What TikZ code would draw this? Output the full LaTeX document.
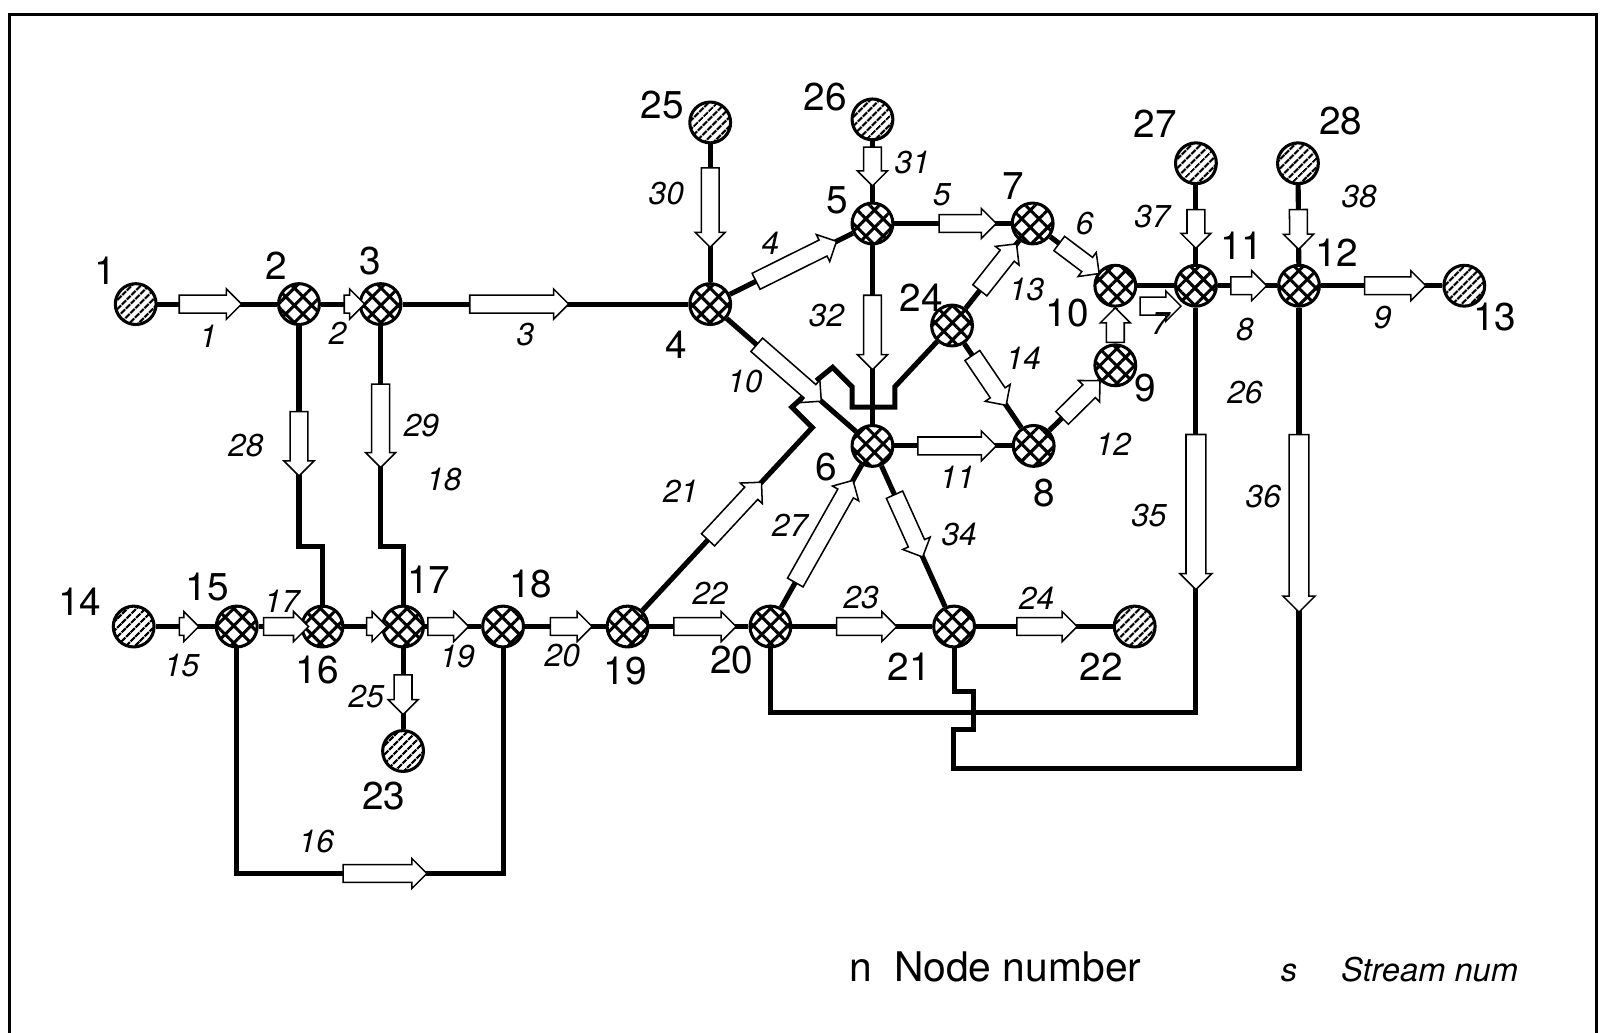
\documentclass[tikz,border=0pt]{standalone}
\usepackage{fontspec}
\setmainfont{TeX Gyre Heros}
\usepackage{tikz}
\usetikzlibrary{shapes.arrows, patterns.meta}

\begin{document}
\begin{tikzpicture}[x=1pt, y=-1pt,
  conn/.style={line width=5},
  junc/.style={circle, draw, line width=3, minimum size=40, inner sep=0pt,
    preaction={fill=white}, pattern={Hatch[angle=45, distance=12pt, line width=3pt]}},
  term/.style={circle, draw, line width=3, minimum size=40, inner sep=0pt,
    preaction={fill=white}, pattern={Lines[angle=45, distance=6.5pt, line width=2.4pt]}},
  strm/.style={single arrow, draw, fill=white, line width=1.5, inner xsep=0pt, inner ysep=8pt,
    single arrow head extend=6, sloped, allow upside down},
  nlab/.style={inner sep=0pt, font=\fontsize{38}{42}\selectfont},
  snum/.style={inner sep=0pt, font=\fontsize{31}{35}\selectfont\itshape}]
  \useasboundingbox (0,0) rectangle (1568,1012);
  \draw[line width=3] (9,1012) -- (9,14) -- (1565,14) -- (1565,1012);

  % Nodes
  \node[term] (n1)  at (133,298)  {};
  \node[junc] (n2)  at (293,298)  {};
  \node[junc] (n3)  at (373,298)  {};
  \node[junc] (n4)  at (696,298)  {};
  \node[junc] (n5)  at (855,219)  {};
  \node[junc] (n6)  at (855,437)  {};
  \node[junc] (n7)  at (1012,219) {};
  \node[junc] (n8)  at (1013,437) {};
  \node[junc] (n9)  at (1093,358) {};
  \node[junc] (n10) at (1093,280) {};
  \node[junc] (n11) at (1172,280) {};
  \node[junc] (n12) at (1273,280) {};
  \node[term] (n13) at (1435,280) {};
  \node[term] (n14) at (131,614)  {};
  \node[junc] (n15) at (232,614)  {};
  \node[junc] (n16) at (316,614)  {};
  \node[junc] (n17) at (395,614)  {};
  \node[junc] (n18) at (493,614)  {};
  \node[junc] (n19) at (615,614)  {};
  \node[junc] (n20) at (755,614)  {};
  \node[junc] (n21) at (935,614)  {};
  \node[term] (n22) at (1112,614) {};
  \node[term] (n23) at (395,736)  {};
  \node[junc] (n24) at (933,319)  {};
  \node[term] (n25) at (696,120)  {};
  \node[term] (n26) at (855,117)  {};
  \node[term] (n27) at (1172,160) {};
  \node[term] (n28) at (1272,160) {};

  % Bends
  \coordinate (k28a) at (293,536);
  \coordinate (k28b) at (316,536);
  \coordinate (k29a) at (373,536);
  \coordinate (k29b) at (395,536);
  \coordinate (k16a) at (232,856);
  \coordinate (k16b) at (493,856);
  \coordinate (k35a) at (1172,698);
  \coordinate (k35b) at (755,698);
  \coordinate (k36a) at (1273,753);
  \coordinate (k36b) at (934,753);
  \coordinate (k36c) at (934,715);
  \coordinate (k36d) at (954,715);
  \coordinate (k36e) at (954,678);
  \coordinate (k36f) at (935,678);
  \coordinate (k21a) at (796,419);
  \coordinate (k21b) at (776,399);
  \coordinate (k21c) at (787,389);
  \coordinate (k24a) at (877,379);
  \coordinate (k24b) at (877,399);
  \coordinate (k24c) at (835,399);
  \coordinate (k24d) at (835,379);
  \coordinate (k24e) at (816,360);
  \coordinate (k24f) at (800,373);
  \coordinate (k7a)  at (1113,300);
  \coordinate (k7b)  at (1153,300);

  % Lines
  \draw[conn] (n1) -- (n2);
  \draw[conn] (n2) -- (n3);
  \draw[conn] (n3) -- (n4);
  \draw[conn] (n25) -- (n4);
  \draw[conn] (n4) -- (n5);
  \draw[conn] (n4) -- (n6);
  \draw[conn] (n26) -- (n5);
  \draw[conn] (n5) -- (n7);
  \draw[conn] (n5) -- (n6);
  \draw[conn] (n24) -- (n7);
  \draw[conn] (n24) -- (n8);
  \draw[conn] (n7) -- (n10);
  \draw[conn] (n6) -- (n8);
  \draw[conn] (n8) -- (n9);
  \draw[conn] (n9) -- (n10);
  \draw[conn] (n10) -- (n11);
  \draw[conn] (n11) -- (n12);
  \draw[conn] (n12) -- (n13);
  \draw[conn] (n27) -- (n11);
  \draw[conn] (n28) -- (n12);
  \draw[conn] (n14) -- (n15);
  \draw[conn] (n15) -- (n16);
  \draw[conn] (n16) -- (n17);
  \draw[conn] (n17) -- (n18);
  \draw[conn] (n18) -- (n19);
  \draw[conn] (n19) -- (n20);
  \draw[conn] (n20) -- (n21);
  \draw[conn] (n21) -- (n22);
  \draw[conn] (n17) -- (n23);
  \draw[conn] (n20) -- (n6);
  \draw[conn] (n6) -- (n21);
  \draw[conn] (n2) -- (k28a) -- (k28b) -- (n16);
  \draw[conn] (n3) -- (k29a) -- (k29b) -- (n17);
  \draw[conn] (n15) -- (k16a) -- (k16b) -- (n18);
  \draw[conn] (n11) -- (k35a) -- (k35b) -- (n20);
  \draw[conn] (n12) -- (k36a) -- (k36b) -- (k36c) -- (k36d) -- (k36e) -- (k36f) -- (n21);
  \draw[conn] (n19) -- (k21a) -- (k21b) -- (k21c);
  \draw[conn] (n24) -- (k24a) -- (k24b) -- (k24c) -- (k24d) -- (k24e) -- (k24f);

  % Stream arrows
  \path (n1.center) -- node[strm, pos=.43, minimum height=61] (a1) {} (n2.center);
  \path (n2.center) -- node[strm, pos=.625, minimum height=20] (a2) {} (n3.center);
  \path (n3.center) -- node[strm, pos=.407, minimum height=97] (a3) {} (n4.center);
  \path (n4.center) -- node[strm, pos=.506, minimum height=88] (a4) {} (n5.center);
  \path (n5.center) -- node[strm, pos=.567, minimum height=56] (a5) {} (n7.center);
  \path (n7.center) -- node[strm, pos=.52, minimum height=49] (a6) {} (n10.center);
  \path (k7a) -- node[strm, pos=.5, minimum height=40] (a7) {} (k7b);
  \path (n11.center) -- node[strm, pos=.47, minimum height=35] (a8) {} (n12.center);
  \path (n12.center) -- node[strm, pos=.555, minimum height=60] (a9) {} (n13.center);
  \path (n4.center) -- node[strm, pos=.465, minimum height=84] (a10) {} (n6.center);
  \path (n6.center) -- node[strm, pos=.497, minimum height=77] (a11) {} (n8.center);
  \path (n8.center) -- node[strm, pos=.54, minimum height=52] (a12) {} (n9.center);
  \path (n24.center) -- node[strm, pos=.538, minimum height=58] (a13) {} (n7.center);
  \path (n24.center) -- node[strm, pos=.425, minimum height=59] (a14) {} (n8.center);
  \path (n9.center) -- node[strm, pos=.449, minimum height=34] (a9b) {} (n10.center);
  \path (n14.center) -- node[strm, pos=.495, minimum height=19] (a15) {} (n15.center);
  \path (k16a) -- node[strm, pos=.54, minimum height=82] (a16) {} (k16b);
  \path (n15.center) -- node[strm, pos=.524, minimum height=44] (a17) {} (n16.center);
  \path (n16.center) -- node[strm, pos=.62, minimum height=20] (a16b) {} (n17.center);
  \path (n17.center) -- node[strm, pos=.408, minimum height=40] (a19) {} (n18.center);
  \path (n18.center) -- node[strm, pos=.512, minimum height=41] (a20) {} (n19.center);
  \path (n19.center) -- node[strm, pos=.564, minimum height=77] (a21) {} (k21a);
  \path (n19.center) -- node[strm, pos=.511, minimum height=61] (a22) {} (n20.center);
  \path (n20.center) -- node[strm, pos=.5, minimum height=59] (a23) {} (n21.center);
  \path (n21.center) -- node[strm, pos=.49, minimum height=59] (a24) {} (n22.center);
  \path (n17.center) -- node[strm, pos=.512, minimum height=39] (a25) {} (n23.center);
  \path (n20.center) -- node[strm, pos=.505, minimum height=115] (a27) {} (n6.center);
  \path (n2.center) -- node[strm, pos=.557, minimum height=63] (a28) {} (k28a);
  \path (n3.center) -- node[strm, pos=.483, minimum height=82] (a29) {} (k29a);
  \path (n25.center) -- node[strm, pos=.444, minimum height=78] (a30) {} (n4.center);
  \path (n26.center) -- node[strm, pos=.41, minimum height=38] (a31) {} (n5.center);
  \path (n5.center) -- node[strm, pos=.47, minimum height=73] (a32) {} (n6.center);
  \path (n6.center) -- node[strm, pos=.42, minimum height=67] (a34) {} (n21.center);
  \path (n11.center) -- node[strm, pos=.519, minimum height=152, inner ysep=9pt] (a35) {} (k35a);
  \path (n12.center) -- node[strm, pos=.482, minimum height=174, inner ysep=9pt] (a36) {} (k36a);
  \path (n27.center) -- node[strm, pos=.5, minimum height=38] (a37) {} (n11.center);
  \path (n28.center) -- node[strm, pos=.504, minimum height=39] (a38) {} (n12.center);

  % Node numbers
  \node[nlab] (l1)  at (103,265)  {1};
  \node[nlab] (l2)  at (271,260)  {2};
  \node[nlab] (l3)  at (363,256)  {3};
  \node[nlab] (l4)  at (663,338)  {4};
  \node[nlab] (l5)  at (821,196)  {5};
  \node[nlab] (l6)  at (810,458)  {6};
  \node[nlab] (l7)  at (993,182)  {7};
  \node[nlab] (l8)  at (1023,483) {8};
  \node[nlab] (l9)  at (1122,380) {9};
  \node[nlab] (l10) at (1046,307) {10};
  \node[nlab] (l11) at (1217,241) {11};
  \node[nlab] (l12) at (1310,248) {12};
  \node[nlab] (l13) at (1465,311) {13};
  \node[nlab] (l14) at (78,590)   {14};
  \node[nlab] (l15) at (203,575)  {15};
  \node[nlab] (l16) at (311,657)  {16};
  \node[nlab] (l17) at (420,568)  {17};
  \node[nlab] (l18) at (520,572)  {18};
  \node[nlab] (l19) at (613,658)  {19};
  \node[nlab] (l20) at (717,647)  {20};
  \node[nlab] (l21) at (891,653)  {21};
  \node[nlab] (l22) at (1079,653) {22};
  \node[nlab] (l23) at (376,780)  {23};
  \node[nlab] (l24) at (903,292)  {24};
  \node[nlab] (l25) at (649,103)  {25};
  \node[nlab] (l26) at (809,95)   {26};
  \node[nlab] (l27) at (1132,121) {27};
  \node[nlab] (l28) at (1314,119) {28};

  % Stream numbers
  \node[snum] (s1)  at (204,330)  {1};
  \node[snum] (s2)  at (331,327)  {2};
  \node[snum] (s3)  at (515,328)  {3};
  \node[snum] (s4)  at (755,238)  {4};
  \node[snum] (s5)  at (923,191)  {5};
  \node[snum] (s6)  at (1063,219) {6};
  \node[snum] (s7)  at (1137,317) {7};
  \node[snum] (s8)  at (1220,323) {8};
  \node[snum] (s9)  at (1355,311) {9};
  \node[snum] (s10) at (730,374)  {10};
  \node[snum] (s11) at (938,468)  {11};
  \node[snum] (s12) at (1091,435) {12};
  \node[snum] (s13) at (1006,284) {13};
  \node[snum] (s14) at (1003,351) {14};
  \node[snum] (s15) at (178,652)  {15};
  \node[snum] (s16) at (310,825)  {16};
  \node[snum] (s17) at (276,589)  {17};
  \node[snum] (s18) at (435,470)  {18};
  \node[snum] (s19) at (448,643)  {19};
  \node[snum] (s20) at (551,642)  {20};
  \node[snum] (s21) at (667,481)  {21};
  \node[snum] (s22) at (696,581)  {22};
  \node[snum] (s23) at (844,586)  {23};
  \node[snum] (s24) at (1016,586) {24};
  \node[snum] (s25) at (359,683)  {25};
  \node[snum] (s26) at (1220,385) {26};
  \node[snum] (s27) at (774,515)  {27};
  \node[snum] (s28) at (241,437)  {28};
  \node[snum] (s29) at (413,417)  {29};
  \node[snum] (s30) at (653,190)  {30};
  \node[snum] (s31) at (894,159)  {31};
  \node[snum] (s32) at (810,309)  {32};
  \node[snum] (s34) at (940,524)  {34};
  \node[snum] (s35) at (1126,505) {35};
  \node[snum] (s36) at (1238,487) {36};
  \node[snum] (s37) at (1129,212) {37};
  \node[snum] (s38) at (1332,193) {38};

  % Legend
  \node[inner sep=0pt, anchor=base west, font=\fontsize{40}{44}\selectfont] (kn) at (832,962) {n};
  \node[inner sep=0pt, anchor=base west, font=\fontsize{40}{44}\selectfont] (kntext) at (876,962) {Node number};
  \node[inner sep=0pt, anchor=base west, font=\fontsize{32}{36}\selectfont\itshape] (ks) at (1255,962) {s};
  \node[inner sep=0pt, anchor=base west, font=\fontsize{32}{36}\selectfont\itshape] (kstext) at (1314,962) {Stream num};
\end{tikzpicture}
\end{document}
